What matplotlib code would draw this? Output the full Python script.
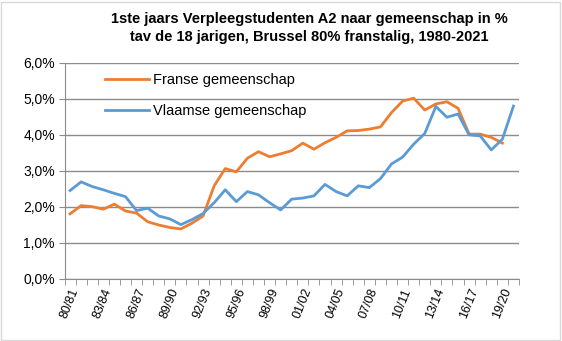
import matplotlib
matplotlib.use("Agg")
import matplotlib.pyplot as plt
from matplotlib.patches import Rectangle
from matplotlib.ticker import FixedLocator, FuncFormatter

years = [f"{y % 100:02d}/{(y + 1) % 100:02d}" for y in range(1980, 2021)]

franse = [1.80, 2.03, 2.00, 1.93, 2.07, 1.88, 1.82, 1.58, 1.49, 1.42,
          1.38, 1.54, 1.74, 2.58, 3.06, 2.97, 3.35, 3.53, 3.39, 3.47,
          3.56, 3.77, 3.60, 3.78, 3.93, 4.11, 4.12, 4.16, 4.22, 4.62,
          4.94, 5.02, 4.69, 4.86, 4.92, 4.74, 4.02, 4.02, 3.93, 3.77]
vlaamse = [2.45, 2.69, 2.56, 2.47, 2.37, 2.28, 1.89, 1.96, 1.74, 1.66,
           1.50, 1.64, 1.81, 2.11, 2.47, 2.14, 2.42, 2.33, 2.11, 1.91,
           2.21, 2.24, 2.30, 2.62, 2.42, 2.30, 2.58, 2.53, 2.78, 3.19,
           3.38, 3.74, 4.04, 4.79, 4.49, 4.58, 4.00, 3.97, 3.58, 3.88,
           4.80]

title = "1ste jaars Verpleegstudenten A2 naar gemeenschap in %\ntav de 18 jarigen, Brussel 80% franstalig, 1980-2021"

plt.rcParams['font.family'] = ['Liberation Sans', 'DejaVu Sans']

W, H = 562, 341
fig = plt.figure(figsize=(W / 100, H / 100), dpi=100)
fig.patches.append(Rectangle((1 / W, 1 / H), 1 - 3 / W, 1 - 3 / H, transform=fig.transFigure,
                             fill=False, edgecolor='#D9D9D9', linewidth=1))

ax = fig.add_axes([64.5 / W, 1 - 278.5 / H, (519 - 64.5) / W, (278.5 - 63) / H])

ax.plot(range(len(franse)), franse, color='#ED7D31', lw=2.0, label='Franse gemeenschap',
        solid_joinstyle='round')
ax.plot(range(len(vlaamse)), vlaamse, color='#5B9BD5', lw=2.0, label='Vlaamse gemeenschap',
        solid_joinstyle='round')

ax.set_xlim(-0.5, len(years) - 0.5)
ax.set_ylim(0, 6)
ax.set_yticks([0, 1, 2, 3, 4, 5, 6])
ax.yaxis.set_major_formatter(FuncFormatter(lambda v, p: f"{v:.1f}%".replace('.', ',')))
ax.grid(axis='y', color='#8C8C8C', lw=1)
ax.set_axisbelow(True)

major = list(range(0, len(years), 3))
ax.xaxis.set_major_locator(FixedLocator(major))
ax.set_xticklabels([years[i] for i in major], rotation=68, ha='right', rotation_mode='anchor',
                   fontsize=9)
ax.xaxis.set_minor_locator(FixedLocator([i - 0.5 for i in range(len(years) + 1)]))
ax.tick_params(axis='x', which='major', length=0, pad=6)
ax.tick_params(axis='x', which='minor', length=4, color='#8C8C8C')
ax.tick_params(axis='y', length=4, color='#8C8C8C', labelsize=10, pad=3)

for s in ['top', 'right']:
    ax.spines[s].set_visible(False)
for s in ['left', 'bottom']:
    ax.spines[s].set_color('#8C8C8C')

fig.text(0.55, 0.965, title, ha='center', va='top', fontsize=10.5, fontweight='bold',
         linespacing=1.4)

leg = ax.legend(loc='upper left', bbox_to_anchor=(0.06, 1.015), frameon=False, fontsize=10.5,
                handlelength=3.0, labelspacing=1.15, handletextpad=0.3)

fig.savefig('out.png', dpi=100)
